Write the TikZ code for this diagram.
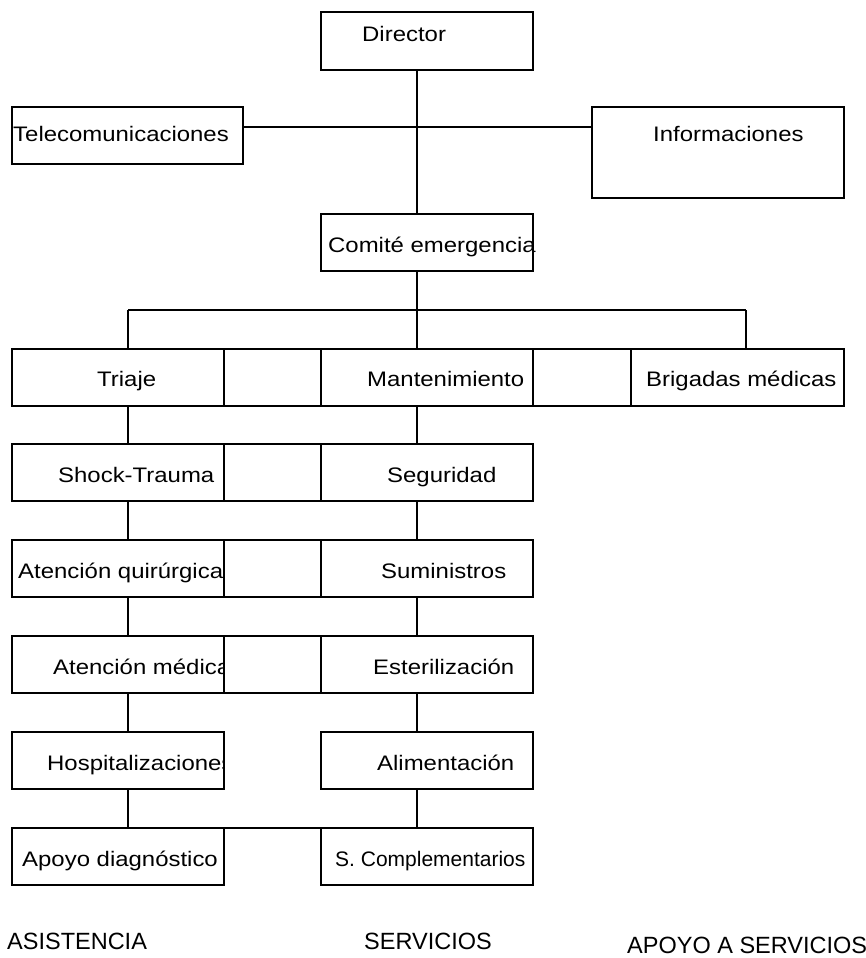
\documentclass[tikz,border=0pt]{standalone}
\usepackage{fontspec}
\setmainfont{Liberation Sans}
\newfontfamily\boxfont[FakeStretch=1.14]{Liberation Sans}
\begin{document}
\begin{tikzpicture}[x=1pt,y=-1pt,
  box/.style={draw, line width=2pt, rectangle, inner sep=0pt, outer sep=0pt, anchor=north west, minimum height=57pt},
  colbox/.style={box, minimum width=212pt},
  txt/.style={anchor=base west, inner sep=0pt, font=\boxfont\fontsize{21}{25}\selectfont},
  smalltxt/.style={anchor=base west, inner sep=0pt, font=\fontsize{21}{25}\selectfont},
  lbl/.style={anchor=base west, inner sep=0pt, font=\fontsize{23.5}{28}\selectfont},
  conn/.style={line width=2pt}]
\useasboundingbox (0,0) rectangle (866,958);
\fill[white] (0,0) rectangle (866,958);

% guide coordinates
\coordinate (mx) at (417,0);
\coordinate (lx) at (128,0);
\coordinate (rx) at (746,0);
\coordinate (hy) at (0,127);
\coordinate (by) at (0,310);

% top boxes
\node[colbox, minimum height=58pt] (director) at (321,12) {};
\node[box, minimum width=231pt] (telecom) at (12,107) {};
\node[box, minimum width=252pt, minimum height=91pt] (info) at (592,107) {};
\node[colbox] (comite) at (321,214) {};

% rows
\node[colbox] (triaje) at (12,349) {};
\node[colbox] (mant) at (321,349) {};
\node[box, minimum width=213pt] (brig) at (631,349) {};
\node[colbox] (shock) at (12,444) {};
\node[colbox] (seg) at (321,444) {};
\node[colbox] (aq) at (12,540) {};
\node[colbox] (sum) at (321,540) {};
\node[colbox] (am) at (12,636) {};
\node[colbox] (est) at (321,636) {};
\node[colbox] (hosp) at (12,732) {};
\node[colbox] (alim) at (321,732) {};
\node[colbox] (apoyo) at (12,828) {};
\node[colbox] (scomp) at (321,828) {};

% texts
\node[txt] (tdirector) at (362,42) {Director};
\node[txt] (ttelecom) at (13,141) {Telecomunicaciones};
\node[txt] (tinfo) at (653,141) {Informaciones};
\node[txt] (tcomite) at (328,252) {Comité emergencia};
\node[txt] (ttriaje) at (97,386) {Triaje};
\node[txt] (tmant) at (367,386) {Mantenimiento};
\node[txt] (tbrig) at (646,386) {Brigadas médicas};
\node[txt] (tshock) at (58,482) {Shock-Trauma};
\node[txt] (tseg) at (387,482) {Seguridad};
\node[txt] (taq) at (18,578) {Atención quirúrgica};
\node[txt] (tsum) at (381,578) {Suministros};
\begin{scope}
  \clip (am.north west) rectangle (am.south east);
  \node[txt] (tam) at (53,674) {Atención médica};
\end{scope}
\node[txt] (test) at (373,674) {Esterilización};
\begin{scope}
  \clip (hosp.north west) rectangle (hosp.south east);
  \node[txt] (thosp) at (47,770) {Hospitalizaciones};
\end{scope}
\node[txt] (talim) at (377,770) {Alimentación};
\node[txt] (tapoyo) at (22,866) {Apoyo diagnóstico};
\node[smalltxt] (tscomp) at (335,866) {S. Complementarios};

% bottom labels
\node[lbl] (lasis) at (7,949) {ASISTENCIA};
\node[lbl] (lserv) at (364,949) {SERVICIOS};
\node[lbl] (lapoyo) at (627,953) {APOYO A SERVICIOS};

% connectors
\draw[conn] (director.south -| mx) -- (comite.north -| mx);
\draw[conn] (telecom.east |- hy) -- (info.west |- hy);
\draw[conn] (comite.south -| mx) -- (mant.north -| mx);
\draw[conn] (by -| lx) -- (by -| rx);
\draw[conn] (by -| lx) -- (triaje.north -| lx);
\draw[conn] (by -| rx) -- (brig.north -| rx);

% row links
\draw[conn] (triaje.north east) -- (mant.north west);
\draw[conn] (triaje.south east) -- (mant.south west);
\draw[conn] (mant.north east) -- (brig.north west);
\draw[conn] (mant.south east) -- (brig.south west);
\draw[conn] (shock.north east) -- (seg.north west);
\draw[conn] (shock.south east) -- (seg.south west);
\draw[conn] (aq.north east) -- (sum.north west);
\draw[conn] (aq.south east) -- (sum.south west);
\draw[conn] (am.north east) -- (est.north west);
\draw[conn] (am.south east) -- (est.south west);
\draw[conn] (apoyo.north east) -- (scomp.north west);

% vertical chains
\draw[conn] (triaje.south -| lx) -- (shock.north -| lx);
\draw[conn] (shock.south -| lx) -- (aq.north -| lx);
\draw[conn] (aq.south -| lx) -- (am.north -| lx);
\draw[conn] (am.south -| lx) -- (hosp.north -| lx);
\draw[conn] (hosp.south -| lx) -- (apoyo.north -| lx);
\draw[conn] (mant.south -| mx) -- (seg.north -| mx);
\draw[conn] (seg.south -| mx) -- (sum.north -| mx);
\draw[conn] (sum.south -| mx) -- (est.north -| mx);
\draw[conn] (est.south -| mx) -- (alim.north -| mx);
\draw[conn] (alim.south -| mx) -- (scomp.north -| mx);
\end{tikzpicture}
\end{document}
